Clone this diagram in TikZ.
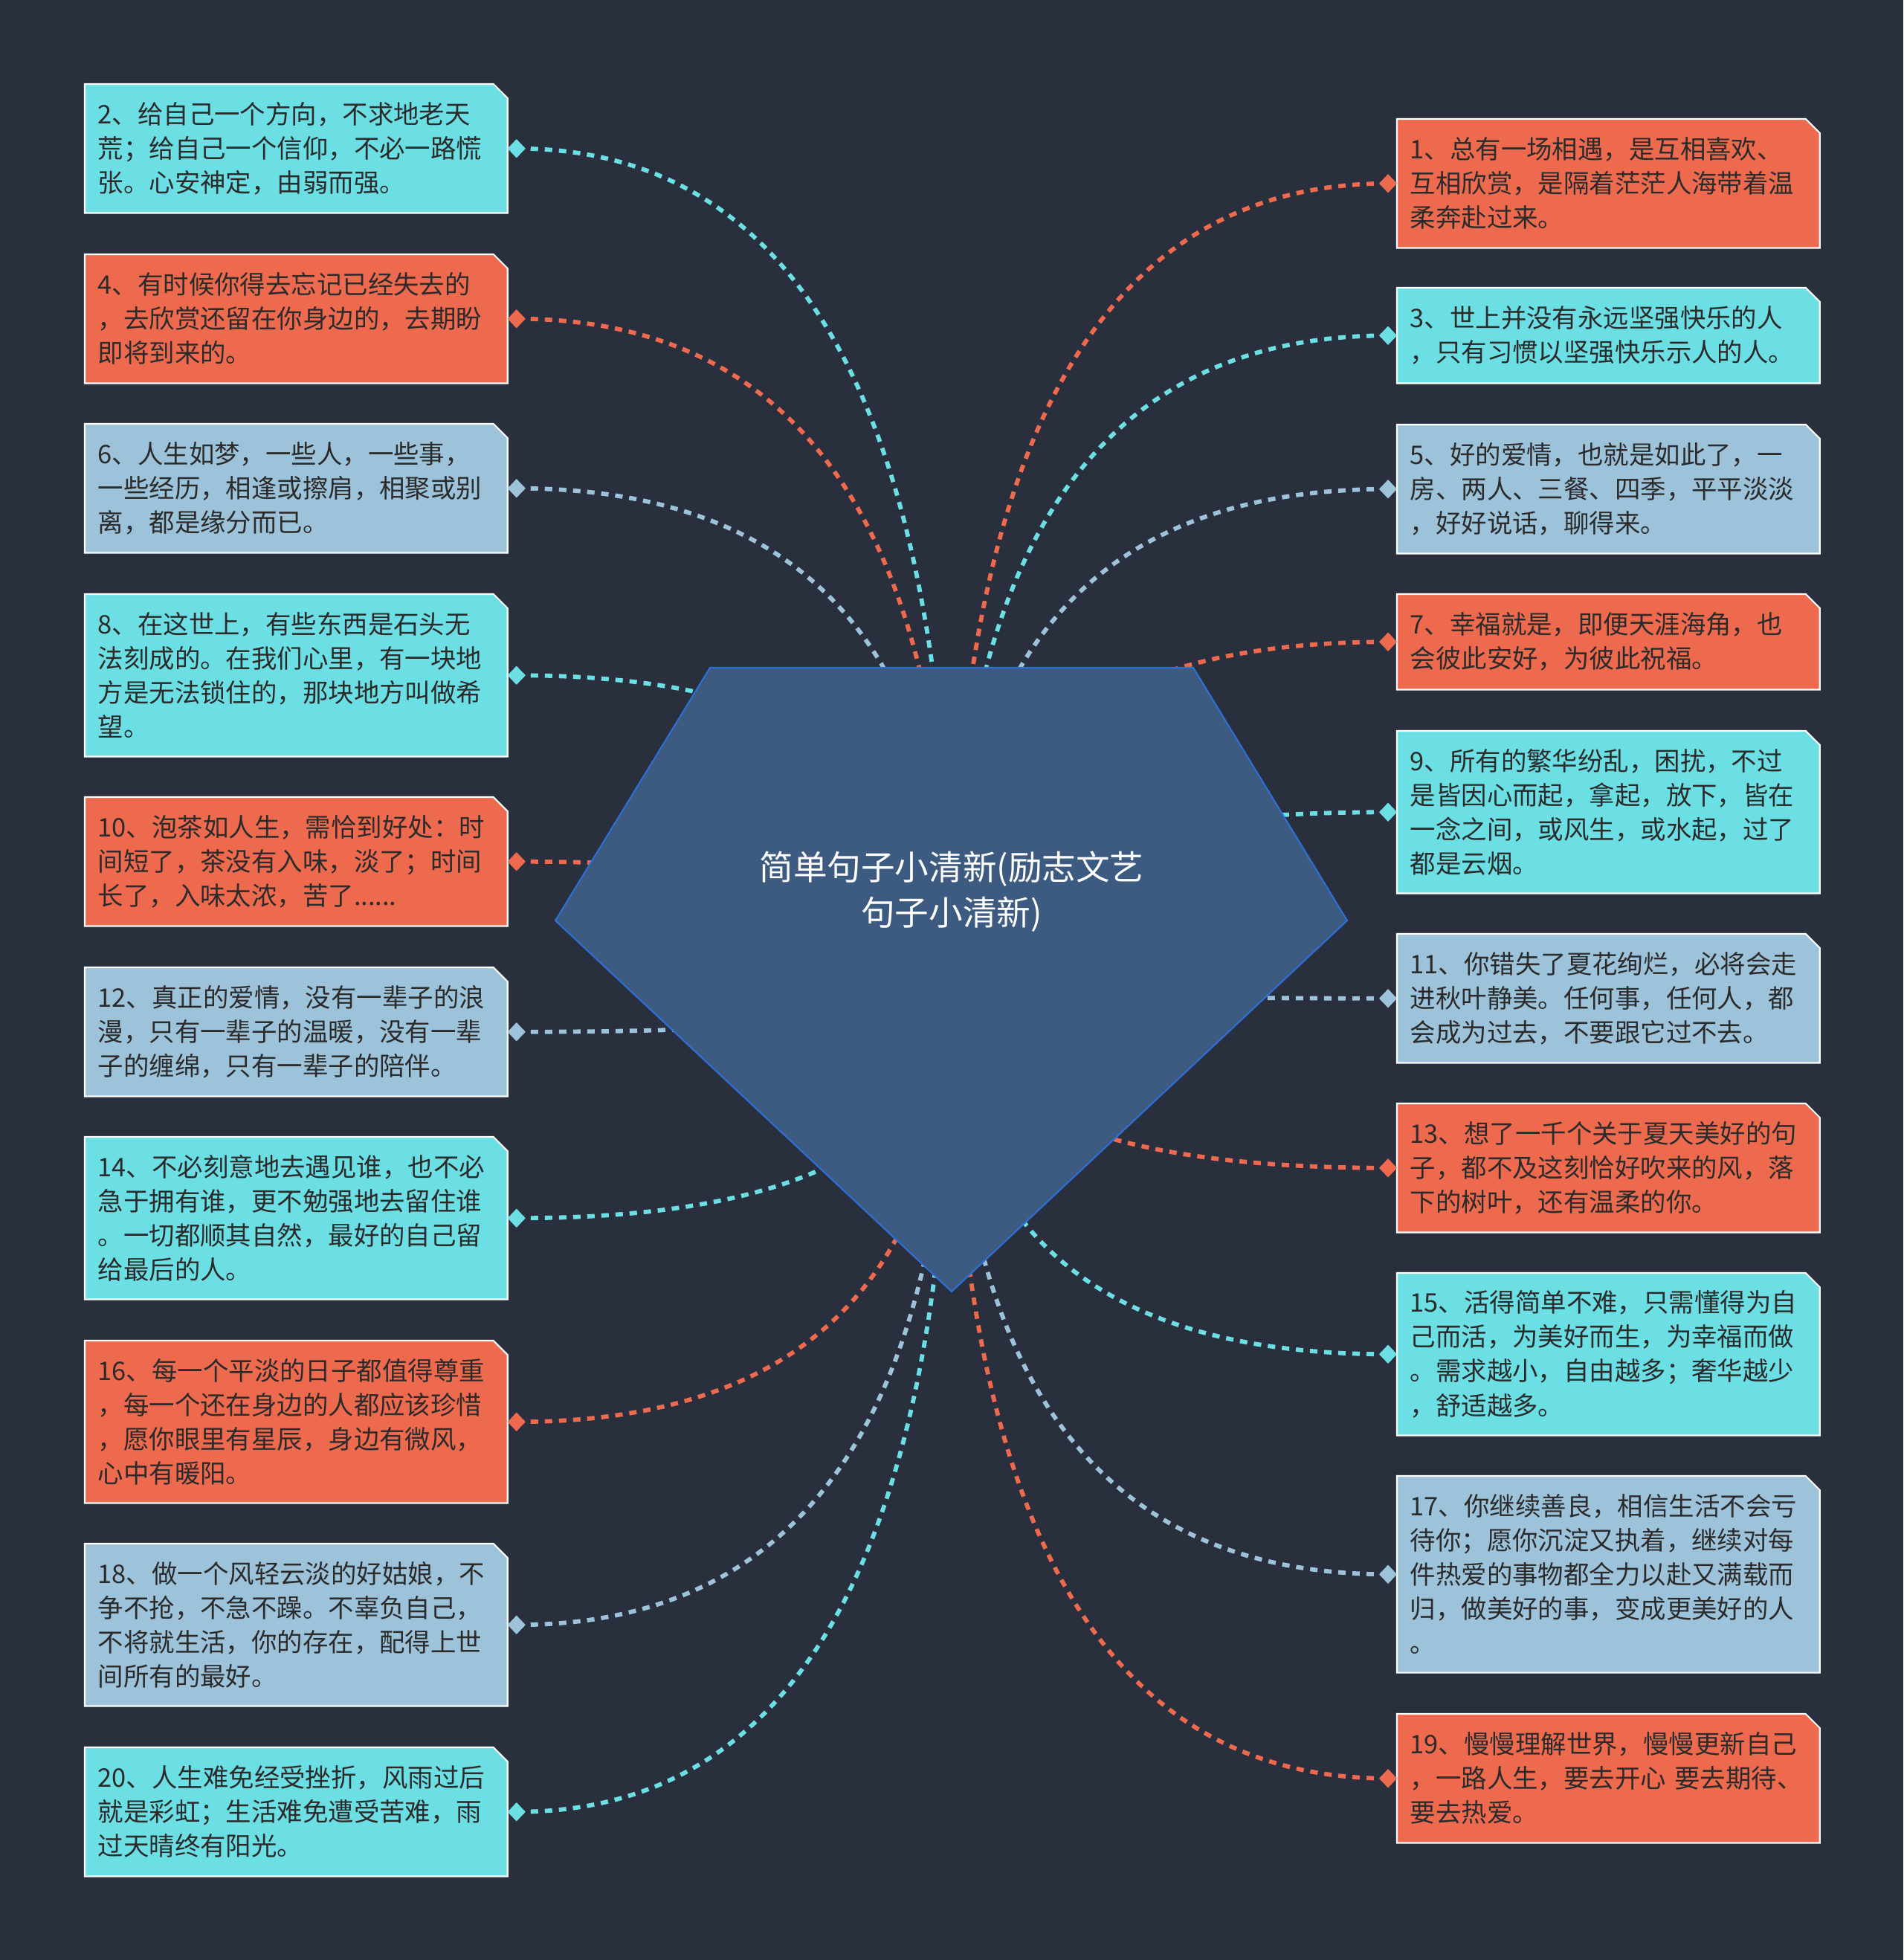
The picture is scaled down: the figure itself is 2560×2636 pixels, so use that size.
\documentclass[tikz,border=0pt]{standalone}
\usepackage{fontspec}
\setmainfont{Noto Sans CJK SC}
\usetikzlibrary{calc,shapes.geometric}
\definecolor{bgc}{HTML}{292F3D}
\definecolor{cyanc}{HTML}{6CDFE4}
\definecolor{orangec}{HTML}{EE6A4E}
\definecolor{bluec}{HTML}{9DC3DB}
\definecolor{pentc}{HTML}{3D5A80}
\definecolor{pentl}{HTML}{2E6FD6}
\definecolor{txtc}{HTML}{2B2B2B}
\pgfdeclarelayer{lbg}\pgfdeclarelayer{lconn}\pgfdeclarelayer{lpent}\pgfdeclarelayer{lbox}
\pgfsetlayers{lbg,lconn,lpent,lbox,main}
\tikzset{
  boxtext/.style={anchor=north west, inner xsep=4.84pt, inner ysep=0pt, text width=151.65pt, minimum width=161.33pt, align=left, text=txtc, font=\fontsize{9.79pt}{13.09pt}\selectfont},
  dmd/.style={diamond, inner sep=0pt, minimum width=7pt, minimum height=7.4pt},
  conn/.style={line width=1.65pt, dash pattern=on 2.85pt off 2.56pt},
  boxshape/.style={draw=white, line width=0.6pt},
}
\newcommand\mkleft[5]{%
  \node[boxtext, minimum height=#3] (#1) at (114,#2) {#5};
  \begin{pgfonlayer}{lbox}
  \path[boxshape, fill=#4] (#1.south west) -- (#1.south east) -- ($(#1.north east)+(0,19)$) -- ($(#1.north east)+(-19,0)$) -- (#1.north west) -- cycle;
  \end{pgfonlayer}
  \node[dmd, fill=#4] (d#1) at ($(#1.east)+(12,0)$) {};
  \begin{pgfonlayer}{lconn}
  \draw[conn, draw=#4] (d#1.center) .. controls ($(d#1.center)!2/3!(ctr|-d#1.center)$) and ($(ctr)!2/3!(ctr|-d#1.center)$) .. (ctr);
  \end{pgfonlayer}
}
\newcommand\mkright[5]{%
  \node[boxtext, minimum height=#3] (#1) at (1879,#2) {#5};
  \begin{pgfonlayer}{lbox}
  \path[boxshape, fill=#4] (#1.south west) -- (#1.south east) -- ($(#1.north east)+(0,19)$) -- ($(#1.north east)+(-19,0)$) -- (#1.north west) -- cycle;
  \end{pgfonlayer}
  \node[dmd, fill=#4] (d#1) at ($(#1.west)+(-12,0)$) {};
  \begin{pgfonlayer}{lconn}
  \draw[conn, draw=#4] (d#1.center) .. controls ($(d#1.center)!2/3!(ctr|-d#1.center)$) and ($(ctr)!2/3!(ctr|-d#1.center)$) .. (ctr);
  \end{pgfonlayer}
}
\begin{document}
\begin{tikzpicture}[x=0.01cm,y=-0.01cm]
\begin{pgfonlayer}{lbg}
\fill[bgc] (0,0) rectangle (2560,2636);
\end{pgfonlayer}
\useasboundingbox (0,0) rectangle (2560,2636);
\coordinate (ctr) at (1280,1317);
\begin{pgfonlayer}{lpent}
\coordinate (p1) at (955,898);
\coordinate (p2) at (1605,898);
\coordinate (p3) at (1812,1238);
\coordinate (p4) at (1280,1737);
\coordinate (p5) at (747,1238);
\draw[fill=pentc, draw=pentl, line width=0.6pt] (p1) -- (p2) -- (p3) -- (p4) -- (p5) -- cycle;
\end{pgfonlayer}
\node[text=white, align=center, font=\fontsize{12.97pt}{17.5pt}\selectfont] (title) at (1280,1199) {简单句子小清新(励志文艺\\句子小清新)};

\mkleft{b2}{113}{48.94pt}{cyanc}{2、给自己一个方向，不求地老天\\荒；给自己一个信仰，不必一路慌\\张。心安神定，由弱而强。}
\mkleft{b4}{342}{48.94pt}{orangec}{4、有时候你得去忘记已经失去的\\，去欣赏还留在你身边的，去期盼\\即将到来的。}
\mkleft{b6}{570}{48.94pt}{bluec}{6、人生如梦，一些人，一些事，\\一些经历，相逢或擦肩，相聚或别\\离，都是缘分而已。}
\mkleft{b8}{799}{61.74pt}{cyanc}{8、在这世上，有些东西是石头无\\法刻成的。在我们心里，有一块地\\方是无法锁住的，那块地方叫做希\\望。}
\mkleft{b10}{1072}{48.94pt}{orangec}{10、泡茶如人生，需恰到好处：时\\间短了，茶没有入味，淡了；时间\\长了，入味太浓，苦了......}
\mkleft{b12}{1301}{48.94pt}{bluec}{12、真正的爱情，没有一辈子的浪\\漫，只有一辈子的温暖，没有一辈\\子的缠绵，只有一辈子的陪伴。}
\mkleft{b14}{1529}{61.74pt}{cyanc}{14、不必刻意地去遇见谁，也不必\\急于拥有谁，更不勉强地去留住谁\\。一切都顺其自然，最好的自己留\\给最后的人。}
\mkleft{b16}{1803}{61.74pt}{orangec}{16、每一个平淡的日子都值得尊重\\，每一个还在身边的人都应该珍惜\\，愿你眼里有星辰，身边有微风，\\心中有暖阳。}
\mkleft{b18}{2076}{61.74pt}{bluec}{18、做一个风轻云淡的好姑娘，不\\争不抢，不急不躁。不辜负自己，\\不将就生活，你的存在，配得上世\\间所有的最好。}
\mkleft{b20}{2350}{48.94pt}{cyanc}{20、人生难免经受挫折，风雨过后\\就是彩虹；生活难免遭受苦难，雨\\过天晴终有阳光。}

\mkright{b1}{160}{48.94pt}{orangec}{1、总有一场相遇，是互相喜欢、\\互相欣赏，是隔着茫茫人海带着温\\柔奔赴过来。}
\mkright{b3}{387}{36.14pt}{cyanc}{3、世上并没有永远坚强快乐的人\\，只有习惯以坚强快乐示人的人。}
\mkright{b5}{571}{48.94pt}{bluec}{5、好的爱情，也就是如此了，一\\房、两人、三餐、四季，平平淡淡\\，好好说话，聊得来。}
\mkright{b7}{799}{36.14pt}{orangec}{7、幸福就是，即便天涯海角，也\\会彼此安好，为彼此祝福。}
\mkright{b9}{983}{61.74pt}{cyanc}{9、所有的繁华纷乱，困扰，不过\\是皆因心而起，拿起，放下，皆在\\一念之间，或风生，或水起，过了\\都是云烟。}
\mkright{b11}{1256}{48.94pt}{bluec}{11、你错失了夏花绚烂，必将会走\\进秋叶静美。任何事，任何人，都\\会成为过去，不要跟它过不去。}
\mkright{b13}{1484}{48.94pt}{orangec}{13、想了一千个关于夏天美好的句\\子，都不及这刻恰好吹来的风，落\\下的树叶，还有温柔的你。}
\mkright{b15}{1712}{61.74pt}{cyanc}{15、活得简单不难，只需懂得为自\\己而活，为美好而生，为幸福而做\\。需求越小，自由越多；奢华越少\\，舒适越多。}
\mkright{b17}{1985}{74.83pt}{bluec}{17、你继续善良，相信生活不会亏\\待你；愿你沉淀又执着，继续对每\\件热爱的事物都全力以赴又满载而\\归，做美好的事，变成更美好的人\\。}
\mkright{b19}{2305}{48.94pt}{orangec}{19、慢慢理解世界，慢慢更新自己\\，一路人生，要去开心 要去期待、\\要去热爱。}
\end{tikzpicture}
\end{document}
